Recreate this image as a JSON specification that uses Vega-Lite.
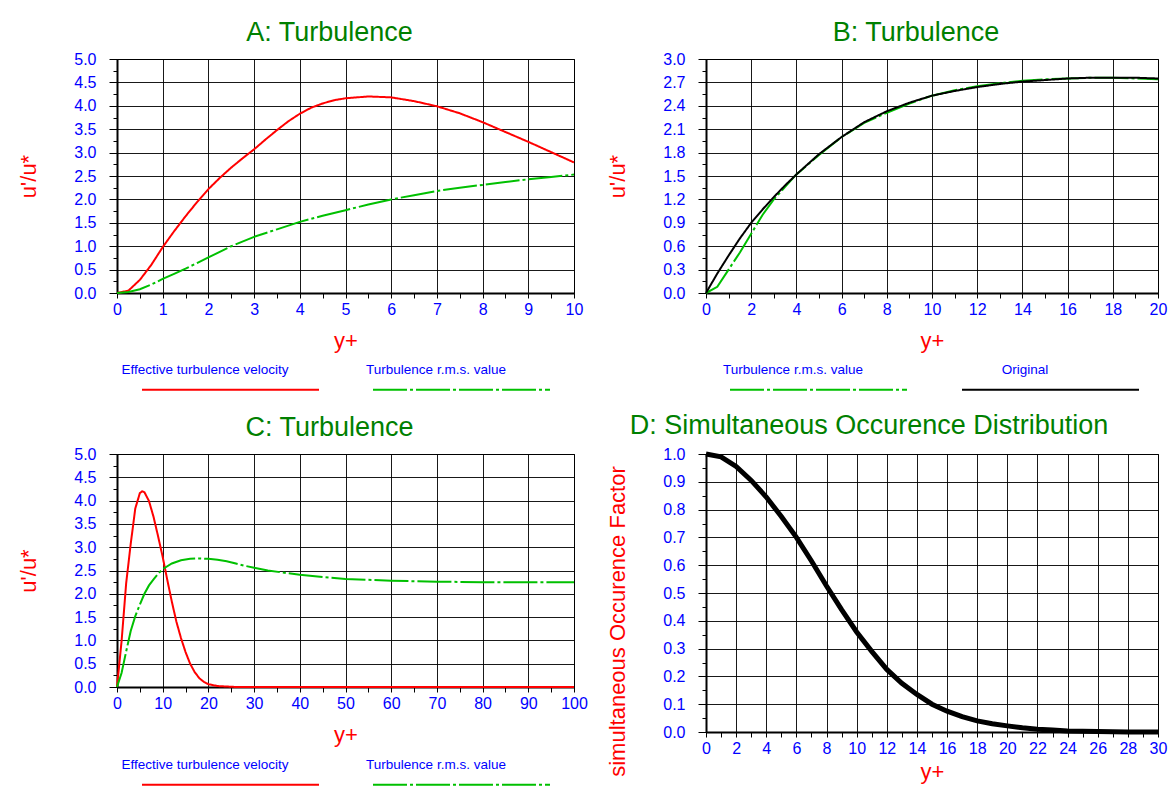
{
  "$schema": "https://vega.github.io/schema/vega-lite/v6.json",
  "background": "white",
  "padding": {"left": 17, "top": 18, "right": 0, "bottom": 0},
  "datasets": {
    "A": [
      {"x": 0, "y": 0, "s": "Effective turbulence velocity"},
      {"x": 0.25, "y": 0.05, "s": "Effective turbulence velocity"},
      {"x": 0.5, "y": 0.28, "s": "Effective turbulence velocity"},
      {"x": 0.75, "y": 0.6, "s": "Effective turbulence velocity"},
      {"x": 1, "y": 0.98, "s": "Effective turbulence velocity"},
      {"x": 1.25, "y": 1.32, "s": "Effective turbulence velocity"},
      {"x": 1.5, "y": 1.64, "s": "Effective turbulence velocity"},
      {"x": 1.75, "y": 1.94, "s": "Effective turbulence velocity"},
      {"x": 2, "y": 2.22, "s": "Effective turbulence velocity"},
      {"x": 2.25, "y": 2.46, "s": "Effective turbulence velocity"},
      {"x": 2.5, "y": 2.68, "s": "Effective turbulence velocity"},
      {"x": 2.75, "y": 2.88, "s": "Effective turbulence velocity"},
      {"x": 3, "y": 3.07, "s": "Effective turbulence velocity"},
      {"x": 3.25, "y": 3.28, "s": "Effective turbulence velocity"},
      {"x": 3.5, "y": 3.48, "s": "Effective turbulence velocity"},
      {"x": 3.75, "y": 3.67, "s": "Effective turbulence velocity"},
      {"x": 4, "y": 3.83, "s": "Effective turbulence velocity"},
      {"x": 4.25, "y": 3.96, "s": "Effective turbulence velocity"},
      {"x": 4.5, "y": 4.05, "s": "Effective turbulence velocity"},
      {"x": 4.75, "y": 4.12, "s": "Effective turbulence velocity"},
      {"x": 5, "y": 4.16, "s": "Effective turbulence velocity"},
      {"x": 5.5, "y": 4.2, "s": "Effective turbulence velocity"},
      {"x": 6, "y": 4.18, "s": "Effective turbulence velocity"},
      {"x": 6.5, "y": 4.1, "s": "Effective turbulence velocity"},
      {"x": 7, "y": 3.99, "s": "Effective turbulence velocity"},
      {"x": 7.5, "y": 3.84, "s": "Effective turbulence velocity"},
      {"x": 8, "y": 3.65, "s": "Effective turbulence velocity"},
      {"x": 8.5, "y": 3.44, "s": "Effective turbulence velocity"},
      {"x": 9, "y": 3.23, "s": "Effective turbulence velocity"},
      {"x": 9.5, "y": 3.01, "s": "Effective turbulence velocity"},
      {"x": 10, "y": 2.79, "s": "Effective turbulence velocity"},
      {"x": 0, "y": 0, "s": "Turbulence r.m.s. value"},
      {"x": 0.25, "y": 0.02, "s": "Turbulence r.m.s. value"},
      {"x": 0.5, "y": 0.08, "s": "Turbulence r.m.s. value"},
      {"x": 0.75, "y": 0.18, "s": "Turbulence r.m.s. value"},
      {"x": 1, "y": 0.3, "s": "Turbulence r.m.s. value"},
      {"x": 1.25, "y": 0.41, "s": "Turbulence r.m.s. value"},
      {"x": 1.5, "y": 0.52, "s": "Turbulence r.m.s. value"},
      {"x": 1.75, "y": 0.64, "s": "Turbulence r.m.s. value"},
      {"x": 2, "y": 0.76, "s": "Turbulence r.m.s. value"},
      {"x": 2.5, "y": 1.0, "s": "Turbulence r.m.s. value"},
      {"x": 3, "y": 1.2, "s": "Turbulence r.m.s. value"},
      {"x": 3.5, "y": 1.36, "s": "Turbulence r.m.s. value"},
      {"x": 4, "y": 1.52, "s": "Turbulence r.m.s. value"},
      {"x": 4.5, "y": 1.65, "s": "Turbulence r.m.s. value"},
      {"x": 5, "y": 1.77, "s": "Turbulence r.m.s. value"},
      {"x": 5.5, "y": 1.89, "s": "Turbulence r.m.s. value"},
      {"x": 6, "y": 2.0, "s": "Turbulence r.m.s. value"},
      {"x": 6.5, "y": 2.09, "s": "Turbulence r.m.s. value"},
      {"x": 7, "y": 2.18, "s": "Turbulence r.m.s. value"},
      {"x": 7.5, "y": 2.25, "s": "Turbulence r.m.s. value"},
      {"x": 8, "y": 2.31, "s": "Turbulence r.m.s. value"},
      {"x": 8.5, "y": 2.37, "s": "Turbulence r.m.s. value"},
      {"x": 9, "y": 2.43, "s": "Turbulence r.m.s. value"},
      {"x": 9.5, "y": 2.48, "s": "Turbulence r.m.s. value"},
      {"x": 10, "y": 2.53, "s": "Turbulence r.m.s. value"}
    ],
    "B": [
      {"x": 0, "y": 0, "s": "Turbulence r.m.s. value"},
      {"x": 0.5, "y": 0.08, "s": "Turbulence r.m.s. value"},
      {"x": 1, "y": 0.3, "s": "Turbulence r.m.s. value"},
      {"x": 1.5, "y": 0.52, "s": "Turbulence r.m.s. value"},
      {"x": 2, "y": 0.76, "s": "Turbulence r.m.s. value"},
      {"x": 2.5, "y": 1.0, "s": "Turbulence r.m.s. value"},
      {"x": 3, "y": 1.2, "s": "Turbulence r.m.s. value"},
      {"x": 3.5, "y": 1.36, "s": "Turbulence r.m.s. value"},
      {"x": 4, "y": 1.52, "s": "Turbulence r.m.s. value"},
      {"x": 5, "y": 1.77, "s": "Turbulence r.m.s. value"},
      {"x": 6, "y": 2.0, "s": "Turbulence r.m.s. value"},
      {"x": 7, "y": 2.18, "s": "Turbulence r.m.s. value"},
      {"x": 8, "y": 2.31, "s": "Turbulence r.m.s. value"},
      {"x": 9, "y": 2.43, "s": "Turbulence r.m.s. value"},
      {"x": 10, "y": 2.53, "s": "Turbulence r.m.s. value"},
      {"x": 11, "y": 2.6, "s": "Turbulence r.m.s. value"},
      {"x": 12, "y": 2.65, "s": "Turbulence r.m.s. value"},
      {"x": 13, "y": 2.69, "s": "Turbulence r.m.s. value"},
      {"x": 14, "y": 2.72, "s": "Turbulence r.m.s. value"},
      {"x": 15, "y": 2.74, "s": "Turbulence r.m.s. value"},
      {"x": 16, "y": 2.75, "s": "Turbulence r.m.s. value"},
      {"x": 17, "y": 2.76, "s": "Turbulence r.m.s. value"},
      {"x": 18, "y": 2.76, "s": "Turbulence r.m.s. value"},
      {"x": 19, "y": 2.75, "s": "Turbulence r.m.s. value"},
      {"x": 20, "y": 2.74, "s": "Turbulence r.m.s. value"},
      {"x": 0, "y": 0, "s": "Original"},
      {"x": 0.5, "y": 0.25, "s": "Original"},
      {"x": 1, "y": 0.48, "s": "Original"},
      {"x": 1.5, "y": 0.7, "s": "Original"},
      {"x": 2, "y": 0.9, "s": "Original"},
      {"x": 2.5, "y": 1.07, "s": "Original"},
      {"x": 3, "y": 1.23, "s": "Original"},
      {"x": 3.5, "y": 1.38, "s": "Original"},
      {"x": 4, "y": 1.52, "s": "Original"},
      {"x": 5, "y": 1.78, "s": "Original"},
      {"x": 6, "y": 2.0, "s": "Original"},
      {"x": 7, "y": 2.19, "s": "Original"},
      {"x": 8, "y": 2.33, "s": "Original"},
      {"x": 9, "y": 2.44, "s": "Original"},
      {"x": 10, "y": 2.53, "s": "Original"},
      {"x": 11, "y": 2.59, "s": "Original"},
      {"x": 12, "y": 2.64, "s": "Original"},
      {"x": 13, "y": 2.68, "s": "Original"},
      {"x": 14, "y": 2.71, "s": "Original"},
      {"x": 15, "y": 2.73, "s": "Original"},
      {"x": 16, "y": 2.75, "s": "Original"},
      {"x": 17, "y": 2.76, "s": "Original"},
      {"x": 18, "y": 2.76, "s": "Original"},
      {"x": 19, "y": 2.76, "s": "Original"},
      {"x": 20, "y": 2.75, "s": "Original"}
    ],
    "C": [
      {"x": 0, "y": 0, "s": "Effective turbulence velocity"},
      {"x": 1, "y": 0.98, "s": "Effective turbulence velocity"},
      {"x": 2, "y": 2.22, "s": "Effective turbulence velocity"},
      {"x": 3, "y": 3.07, "s": "Effective turbulence velocity"},
      {"x": 4, "y": 3.83, "s": "Effective turbulence velocity"},
      {"x": 5, "y": 4.16, "s": "Effective turbulence velocity"},
      {"x": 5.5, "y": 4.2, "s": "Effective turbulence velocity"},
      {"x": 6, "y": 4.18, "s": "Effective turbulence velocity"},
      {"x": 7, "y": 3.99, "s": "Effective turbulence velocity"},
      {"x": 8, "y": 3.65, "s": "Effective turbulence velocity"},
      {"x": 9, "y": 3.23, "s": "Effective turbulence velocity"},
      {"x": 10, "y": 2.79, "s": "Effective turbulence velocity"},
      {"x": 11, "y": 2.3, "s": "Effective turbulence velocity"},
      {"x": 12, "y": 1.83, "s": "Effective turbulence velocity"},
      {"x": 13, "y": 1.4, "s": "Effective turbulence velocity"},
      {"x": 14, "y": 1.05, "s": "Effective turbulence velocity"},
      {"x": 15, "y": 0.75, "s": "Effective turbulence velocity"},
      {"x": 16, "y": 0.5, "s": "Effective turbulence velocity"},
      {"x": 17, "y": 0.32, "s": "Effective turbulence velocity"},
      {"x": 18, "y": 0.19, "s": "Effective turbulence velocity"},
      {"x": 19, "y": 0.11, "s": "Effective turbulence velocity"},
      {"x": 20, "y": 0.06, "s": "Effective turbulence velocity"},
      {"x": 22, "y": 0.02, "s": "Effective turbulence velocity"},
      {"x": 24, "y": 0.01, "s": "Effective turbulence velocity"},
      {"x": 26, "y": 0, "s": "Effective turbulence velocity"},
      {"x": 40, "y": 0, "s": "Effective turbulence velocity"},
      {"x": 60, "y": 0, "s": "Effective turbulence velocity"},
      {"x": 80, "y": 0, "s": "Effective turbulence velocity"},
      {"x": 100, "y": 0, "s": "Effective turbulence velocity"},
      {"x": 0, "y": 0, "s": "Turbulence r.m.s. value"},
      {"x": 1, "y": 0.3, "s": "Turbulence r.m.s. value"},
      {"x": 2, "y": 0.76, "s": "Turbulence r.m.s. value"},
      {"x": 3, "y": 1.2, "s": "Turbulence r.m.s. value"},
      {"x": 4, "y": 1.52, "s": "Turbulence r.m.s. value"},
      {"x": 5, "y": 1.77, "s": "Turbulence r.m.s. value"},
      {"x": 6, "y": 2.0, "s": "Turbulence r.m.s. value"},
      {"x": 7, "y": 2.18, "s": "Turbulence r.m.s. value"},
      {"x": 8, "y": 2.31, "s": "Turbulence r.m.s. value"},
      {"x": 9, "y": 2.43, "s": "Turbulence r.m.s. value"},
      {"x": 10, "y": 2.53, "s": "Turbulence r.m.s. value"},
      {"x": 12, "y": 2.65, "s": "Turbulence r.m.s. value"},
      {"x": 14, "y": 2.72, "s": "Turbulence r.m.s. value"},
      {"x": 16, "y": 2.75, "s": "Turbulence r.m.s. value"},
      {"x": 18, "y": 2.76, "s": "Turbulence r.m.s. value"},
      {"x": 20, "y": 2.75, "s": "Turbulence r.m.s. value"},
      {"x": 22, "y": 2.73, "s": "Turbulence r.m.s. value"},
      {"x": 24, "y": 2.7, "s": "Turbulence r.m.s. value"},
      {"x": 26, "y": 2.65, "s": "Turbulence r.m.s. value"},
      {"x": 28, "y": 2.6, "s": "Turbulence r.m.s. value"},
      {"x": 30, "y": 2.56, "s": "Turbulence r.m.s. value"},
      {"x": 33, "y": 2.5, "s": "Turbulence r.m.s. value"},
      {"x": 36, "y": 2.46, "s": "Turbulence r.m.s. value"},
      {"x": 40, "y": 2.41, "s": "Turbulence r.m.s. value"},
      {"x": 45, "y": 2.36, "s": "Turbulence r.m.s. value"},
      {"x": 50, "y": 2.32, "s": "Turbulence r.m.s. value"},
      {"x": 55, "y": 2.3, "s": "Turbulence r.m.s. value"},
      {"x": 60, "y": 2.28, "s": "Turbulence r.m.s. value"},
      {"x": 65, "y": 2.27, "s": "Turbulence r.m.s. value"},
      {"x": 70, "y": 2.26, "s": "Turbulence r.m.s. value"},
      {"x": 80, "y": 2.25, "s": "Turbulence r.m.s. value"},
      {"x": 90, "y": 2.25, "s": "Turbulence r.m.s. value"},
      {"x": 100, "y": 2.25, "s": "Turbulence r.m.s. value"}
    ],
    "D": [
      {"x": 0, "y": 1.0}, {"x": 1, "y": 0.99}, {"x": 2, "y": 0.955}, {"x": 3, "y": 0.905},
      {"x": 4, "y": 0.845}, {"x": 5, "y": 0.775}, {"x": 6, "y": 0.7}, {"x": 7, "y": 0.615},
      {"x": 8, "y": 0.525}, {"x": 9, "y": 0.44}, {"x": 10, "y": 0.36}, {"x": 11, "y": 0.29},
      {"x": 12, "y": 0.225}, {"x": 13, "y": 0.175}, {"x": 14, "y": 0.135}, {"x": 15, "y": 0.1},
      {"x": 16, "y": 0.075}, {"x": 17, "y": 0.055}, {"x": 18, "y": 0.04}, {"x": 19, "y": 0.03},
      {"x": 20, "y": 0.022}, {"x": 21, "y": 0.015}, {"x": 22, "y": 0.01}, {"x": 23, "y": 0.007},
      {"x": 24, "y": 0.004}, {"x": 25, "y": 0.003}, {"x": 26, "y": 0.002}, {"x": 27, "y": 0.001},
      {"x": 28, "y": 0}, {"x": 29, "y": 0}, {"x": 30, "y": 0}
    ]
  },
  "config": {
    "font": "Liberation Sans",
    "view": {"stroke": "#000", "strokeWidth": 1},
    "axis": {
      "domainColor": "#000", "domainWidth": 2,
      "gridColor": "#000", "gridWidth": 1,
      "tickColor": "#000", "tickWidth": 1,
      "labelColor": "#0000ff", "labelFontSize": 16, "labelFont": "Liberation Sans",
      "titleColor": "#ff0000", "titleFontSize": 22, "titleFontWeight": "normal", "titleFont": "Liberation Sans",
      "labelFlush": false, "labelOverlap": false, "labelBound": false
    },
    "axisX": {"tickSize": 5, "labelPadding": 3, "titlePadding": 13},
    "axisY": {"labelPadding": 13, "titlePadding": 33},
    "title": {"color": "#008000", "fontSize": 27, "fontWeight": "normal", "font": "Liberation Sans", "offset": 4, "frame": "group", "anchor": "middle"},
    "legend": {
      "title": null, "orient": "none", "direction": "horizontal",
      "labelFont": "Liberation Sans", "labelFontSize": 13.5, "labelColor": "#0000ff", "labelLimit": 0,
      "symbolType": "stroke", "symbolSize": 31329, "symbolStrokeWidth": 2,
      "labelAlign": "center", "labelOffset": -115, "columnPadding": 43, "padding": 0
    }
  },
  "resolve": {"scale": {"color": "independent", "strokeDash": "independent"}, "legend": {"color": "independent", "strokeDash": "independent"}},
  "spacing": 16,
  "vconcat": [
    {
      "spacing": 22,
      "resolve": {"scale": {"color": "independent", "strokeDash": "independent"}, "legend": {"color": "independent", "strokeDash": "independent"}},
      "hconcat": [
        {
          "title": {"text": "A: Turbulence", "dx": -16},
          "width": 457, "height": 234,
          "data": {"name": "A"},
          "mark": {"type": "line", "strokeWidth": 2},
          "encoding": {
            "x": {"field": "x", "type": "quantitative", "scale": {"domain": [0, 10], "nice": false, "zero": false},
              "axis": {"title": "y+", "values": [0,0.5,1,1.5,2,2.5,3,3.5,4,4.5,5,5.5,6,6.5,7,7.5,8,8.5,9,9.5,10],
                "labelExpr": "round(datum.value*2) % 2 == 0 ? format(datum.value, 'd') : ''",
                "gridOpacity": {"condition": {"test": "round(datum.value*2) % 2 == 1", "value": 0}, "value": 0.9}}},
            "y": {"field": "y", "type": "quantitative", "scale": {"domain": [0, 5], "nice": false, "zero": false},
              "axis": {"title": "u'/u*", "values": [0,0.25,0.5,0.75,1,1.25,1.5,1.75,2,2.25,2.5,2.75,3,3.25,3.5,3.75,4,4.25,4.5,4.75,5],
                "labelExpr": "round(datum.value*4) % 2 == 0 ? format(datum.value, '.1f') : ''",
                "tickSize": {"condition": {"test": "round(datum.value*4) % 2 == 1", "value": 4}, "value": 8},
                "gridOpacity": {"condition": {"test": "round(datum.value*4) % 2 == 1", "value": 0}, "value": 0.9}}},
            "color": {"field": "s", "type": "nominal",
              "scale": {"domain": ["Effective turbulence velocity", "Turbulence r.m.s. value"], "range": ["#ff0000", "#00c000"]},
              "legend": {"legendX": 24, "legendY": 241, "encode": {"labels": {"update": {"dy": {"value": -20}}}}}},
            "strokeDash": {"field": "s", "type": "nominal",
              "scale": {"domain": ["Effective turbulence velocity", "Turbulence r.m.s. value"], "range": [[1, 0], [34, 3, 3, 3]]},
              "legend": {"legendX": 24, "legendY": 241, "encode": {"labels": {"update": {"dy": {"value": -20}}}}}}
          }
        },
        {
          "title": {"text": "B: Turbulence", "dx": -16},
          "width": 452, "height": 234,
          "data": {"name": "B"},
          "mark": {"type": "line", "strokeWidth": 2},
          "encoding": {
            "x": {"field": "x", "type": "quantitative", "scale": {"domain": [0, 20], "nice": false, "zero": false},
              "axis": {"title": "y+", "values": [0,1,2,3,4,5,6,7,8,9,10,11,12,13,14,15,16,17,18,19,20],
                "labelExpr": "datum.value % 2 == 0 ? format(datum.value, 'd') : ''",
                "gridOpacity": {"condition": {"test": "datum.value % 2 == 1", "value": 0}, "value": 0.9}}},
            "y": {"field": "y", "type": "quantitative", "scale": {"domain": [0, 3], "nice": false, "zero": false},
              "axis": {"title": "u'/u*", "values": [0,0.15,0.3,0.45,0.6,0.75,0.9,1.05,1.2,1.35,1.5,1.65,1.8,1.95,2.1,2.25,2.4,2.55,2.7,2.85,3],
                "labelExpr": "round(datum.value/0.15) % 2 == 0 ? format(datum.value, '.1f') : ''",
                "tickSize": {"condition": {"test": "round(datum.value/0.15) % 2 == 1", "value": 4}, "value": 8},
                "gridOpacity": {"condition": {"test": "round(datum.value/0.15) % 2 == 1", "value": 0}, "value": 0.9}}},
            "color": {"field": "s", "type": "nominal",
              "scale": {"domain": ["Turbulence r.m.s. value", "Original"], "range": ["#00c000", "#000000"]},
              "legend": {"legendX": 23, "legendY": 241, "columnPadding": 47, "encode": {"labels": {"update": {"dy": {"value": -20}}}}}},
            "strokeDash": {"field": "s", "type": "nominal",
              "scale": {"domain": ["Turbulence r.m.s. value", "Original"], "range": [[34, 3, 3, 3], [1, 0]]},
              "legend": {"legendX": 23, "legendY": 241, "columnPadding": 47, "encode": {"labels": {"update": {"dy": {"value": -20}}}}}}
          }
        }
      ]
    },
    {
      "spacing": 18,
      "resolve": {"scale": {"color": "independent", "strokeDash": "independent"}, "legend": {"color": "independent", "strokeDash": "independent"}},
      "hconcat": [
        {
          "title": {"text": "C: Turbulence", "dx": -16},
          "width": 457, "height": 233,
          "data": {"name": "C"},
          "mark": {"type": "line", "strokeWidth": 2},
          "encoding": {
            "x": {"field": "x", "type": "quantitative", "scale": {"domain": [0, 100], "nice": false, "zero": false},
              "axis": {"title": "y+", "values": [0,5,10,15,20,25,30,35,40,45,50,55,60,65,70,75,80,85,90,95,100],
                "labelExpr": "datum.value % 10 == 0 ? format(datum.value, 'd') : ''",
                "gridOpacity": {"condition": {"test": "datum.value % 10 == 5", "value": 0}, "value": 0.9}}},
            "y": {"field": "y", "type": "quantitative", "scale": {"domain": [0, 5], "nice": false, "zero": false},
              "axis": {"title": "u'/u*", "values": [0,0.25,0.5,0.75,1,1.25,1.5,1.75,2,2.25,2.5,2.75,3,3.25,3.5,3.75,4,4.25,4.5,4.75,5],
                "labelExpr": "round(datum.value*4) % 2 == 0 ? format(datum.value, '.1f') : ''",
                "tickSize": {"condition": {"test": "round(datum.value*4) % 2 == 1", "value": 4}, "value": 8},
                "gridOpacity": {"condition": {"test": "round(datum.value*4) % 2 == 1", "value": 0}, "value": 0.9}}},
            "color": {"field": "s", "type": "nominal",
              "scale": {"domain": ["Effective turbulence velocity", "Turbulence r.m.s. value"], "range": ["#ff0000", "#00c000"]},
              "legend": {"legendX": 24, "legendY": 241, "encode": {"labels": {"update": {"dy": {"value": -20}}}}}},
            "strokeDash": {"field": "s", "type": "nominal",
              "scale": {"domain": ["Effective turbulence velocity", "Turbulence r.m.s. value"], "range": [[1, 0], [34, 3, 3, 3]]},
              "legend": {"legendX": 24, "legendY": 241, "encode": {"labels": {"update": {"dy": {"value": -20}}}}}}
          }
        },
        {
          "title": {"text": "D: Simultaneous Occurence Distribution", "dx": -63},
          "width": 452, "height": 278,
          "data": {"name": "D"},
          "mark": {"type": "line", "strokeWidth": 5, "color": "#000000"},
          "encoding": {
            "x": {"field": "x", "type": "quantitative", "scale": {"domain": [0, 30], "nice": false, "zero": false},
              "axis": {"title": "y+", "titlePadding": 5, "values": [0,1,2,3,4,5,6,7,8,9,10,11,12,13,14,15,16,17,18,19,20,21,22,23,24,25,26,27,28,29,30],
                "labelExpr": "datum.value % 2 == 0 ? format(datum.value, 'd') : ''",
                "gridOpacity": {"condition": {"test": "datum.value % 2 == 1", "value": 0}, "value": 0.9}}},
            "y": {"field": "y", "type": "quantitative", "scale": {"domain": [0, 1], "nice": false, "zero": false},
              "axis": {"title": "simultaneous Occurence Factor", "titleY": 167, "values": [0,0.05,0.1,0.15,0.2,0.25,0.3,0.35,0.4,0.45,0.5,0.55,0.6,0.65,0.7,0.75,0.8,0.85,0.9,0.95,1],
                "labelExpr": "round(datum.value*20) % 2 == 0 ? format(datum.value, '.1f') : ''",
                "tickSize": {"condition": {"test": "round(datum.value*20) % 2 == 1", "value": 4}, "value": 8},
                "gridOpacity": {"condition": {"test": "round(datum.value*20) % 2 == 1", "value": 0}, "value": 0.9}}}
          }
        }
      ]
    }
  ]
}
